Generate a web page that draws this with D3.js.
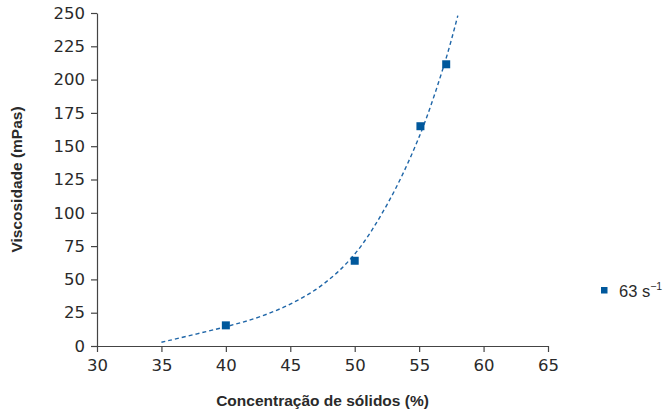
<!DOCTYPE html>
<html>
<head>
<meta charset="utf-8">
<script src="https://cdn.jsdelivr.net/npm/d3@7"></script>
<style>
  body { margin: 0; background: #fff; }
  svg { font-family: "Liberation Sans", Arial, sans-serif; }
</style>
</head>
<body>
<svg id="chart" width="667" height="415"></svg>
<script>
// measured points, 63 s^-1
const solids = [40, 50, 55.1, 57.1];
const viscosity = [15.5, 64, 165, 211.5];

// trend line
const trendX = [35, 40, 42.5, 45, 47.5, 50, 52.5, 55, 57, 58];
const trendY = [2.8, 14.5, 21.5, 31.5, 46, 69, 106, 157, 213, 248];

const xTicks = [30, 35, 40, 45, 50, 55, 60, 65];
const yTicks = [0, 25, 50, 75, 100, 125, 150, 175, 200, 225, 250];

const svg = d3.select("#chart");

const x = d3.scaleLinear().domain([30, 65]).range([97, 548]);
const y = d3.scaleLinear().domain([0, 250]).range([346, 13]);

const xAxis = svg.append("g")
    .attr("transform", "translate(0,346)")
    .call(d3.axisBottom(x).tickValues(xTicks).tickSize(6).tickPadding(7).tickSizeOuter(0));

const yAxis = svg.append("g")
    .attr("transform", "translate(97,0)")
    .call(d3.axisLeft(y).tickValues(yTicks).tickSize(6).tickPadding(6).tickSizeOuter(0));

[xAxis, yAxis].forEach(a => {
    a.select(".domain").attr("stroke", "#444").attr("stroke-width", 1.2);
    a.selectAll(".tick line").attr("stroke", "#444").attr("stroke-width", 1.2);
    a.selectAll(".tick text")
        .attr("fill", "#2a2a2a")
        .style("font-size", "16.5px")
        .style("font-family", "'DejaVu Sans', sans-serif");
});

const trend = trendX.map((v, i) => [v, trendY[i]]);
svg.append("path")
    .datum(trend)
    .attr("fill", "none")
    .attr("stroke", "#1f66a8")
    .attr("stroke-width", 1.4)
    .attr("stroke-dasharray", "4,3")
    .attr("d", d3.line().x(d => x(d[0])).y(d => y(d[1])).curve(d3.curveCatmullRom.alpha(0.5)));

svg.selectAll(".pt")
    .data(solids.map((v, i) => [v, viscosity[i]]))
    .enter().append("rect")
    .attr("class", "pt")
    .attr("x", d => x(d[0]) - 4)
    .attr("y", d => y(d[1]) - 4)
    .attr("width", 8)
    .attr("height", 8)
    .attr("fill", "#00589c");

svg.append("text")
    .attr("x", x(47.5))
    .attr("y", 406)
    .attr("text-anchor", "middle")
    .attr("font-weight", "bold")
    .attr("font-size", 15.5)
    .attr("fill", "#2a2a2a")
    .text("Concentração de sólidos (%)");

svg.append("text")
    .attr("transform", "translate(22," + y(125) + ") rotate(-90)")
    .attr("text-anchor", "middle")
    .attr("font-weight", "bold")
    .attr("font-size", 15.5)
    .attr("fill", "#2a2a2a")
    .text("Viscosidade (mPas)");

// legend
const legend = svg.append("g").attr("transform", "translate(601,287)");
legend.append("rect")
    .attr("width", 6.5).attr("height", 6.5)
    .attr("fill", "#00589c");
const lt = legend.append("text")
    .attr("x", 18).attr("y", 9.5)
    .attr("font-size", 16.5)
    .attr("fill", "#2a2a2a");
lt.append("tspan").text("63 s");
lt.append("tspan").attr("dy", -7).attr("font-size", 10.5).text("−1");
</script>
</body>
</html>
